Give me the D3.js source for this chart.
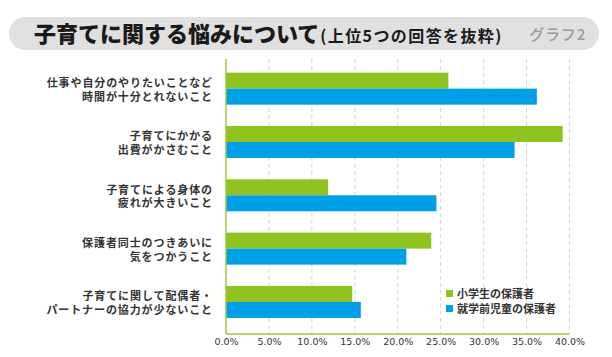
<!DOCTYPE html>
<html><head><meta charset="utf-8">
<script src="https://cdn.jsdelivr.net/npm/d3@7"></script>
<style>
html,body{margin:0;padding:0;background:#fff;}
svg{display:block;font-family:"Noto Sans CJK JP","Noto Sans",sans-serif;}
</style></head>
<body><svg id="c" width="612" height="357"></svg>
<script>
const categories = [
  ["仕事や自分のやりたいことなど","時間が十分とれないこと"],
  ["子育てにかかる","出費がかさむこと"],
  ["子育てによる身体の","疲れが大きいこと"],
  ["保護者同士のつきあいに","気をつかうこと"],
  ["子育てに関して配偶者・","パートナーの協力が少ないこと"]
];
const seriesNames = ["小学生の保護者","就学前児童の保護者"];
const elementary = [25.9, 39.2, 11.9, 23.9, 14.7];
const preschool = [36.2, 33.6, 24.5, 21.0, 15.7];
const ticks = [0,5,10,15,20,25,30,35,40];
const colors = ["#8fc31f","#00a0e9"];

const svg = d3.select("#c");
const L = 226, R = 569.5, T = 59, B = 334;
const x = d3.scaleLinear().domain([0,40]).range([L,R]);
const y = d3.scaleBand().domain(d3.range(categories.length)).range([62, 328.6]).padding(0);
const barH = 16;

// title bar
svg.append("rect").attr("x",9).attr("y",17).attr("width",590).attr("height",33)
  .attr("rx",16.5).attr("fill","#e0e0e0");
const title = svg.append("text").attr("x",34).attr("y",42).attr("fill","#1a1a1a").attr("font-weight",900);
title.append("tspan").attr("font-size",22).text("子育てに関する悩みについて");
title.append("tspan").attr("font-size",16).attr("font-weight",700).attr("letter-spacing",1.4).attr("dx",1).text("(上位5つの回答を抜粋)");
svg.append("text").attr("x",586).attr("y",40).attr("text-anchor","end").attr("font-size",15)
  .attr("letter-spacing",0.8).attr("fill","#9a9a9a").attr("font-weight",500).text("グラフ2");

// gridlines
svg.append("g").selectAll("line").data(ticks.filter(t=>t>0)).join("line")
  .attr("x1",d=>x(d)).attr("x2",d=>x(d)).attr("y1",T).attr("y2",B)
  .attr("stroke","#d4d4d4").attr("stroke-width",1).attr("stroke-dasharray","4,3");

// bars
const g = svg.append("g");
categories.forEach((c,i)=>{
  const cy = y(i) + y.bandwidth()/2;
  g.append("rect").attr("x",x(0)).attr("y",cy-barH).attr("width",x(elementary[i])-x(0)).attr("height",barH).attr("fill",colors[0]);
  g.append("rect").attr("x",x(0)).attr("y",cy).attr("width",x(preschool[i])-x(0)).attr("height",barH).attr("fill",colors[1]);
  c.forEach((line,j)=>{
    svg.append("text").attr("x",213).attr("y",cy-1.5+j*13.5).attr("text-anchor","end").attr("font-size",11)
      .attr("letter-spacing",0.9).attr("font-weight",700).attr("fill","#333").text(line);
  });
});

// axis lines
svg.append("line").attr("x1",L).attr("x2",L).attr("y1",T).attr("y2",B).attr("stroke","#9bc93a").attr("stroke-width",1.5);
svg.append("line").attr("x1",L).attr("x2",R).attr("y1",B).attr("y2",B).attr("stroke","#9bc93a").attr("stroke-width",1.5);

// tick labels
const xAxis = d3.axisBottom(x).tickValues(ticks).tickFormat(d=>d.toFixed(1)+"%").tickSize(0).tickPadding(0);
const ax = svg.append("g").attr("transform",`translate(0,${B+3})`).call(xAxis);
ax.select(".domain").remove();
ax.selectAll("text").attr("font-family","'DejaVu Sans', sans-serif").attr("font-size",9.5)
  .attr("fill","#333").attr("font-weight",400).attr("dy","0.85em");

// legend
const lg = svg.append("g");
seriesNames.forEach((n,i)=>{
  const ly = 293.5 + i*15;
  lg.append("rect").attr("x",446).attr("y",ly-3.5).attr("width",7).attr("height",7).attr("fill",colors[i]);
  lg.append("text").attr("x",457).attr("y",ly+4).attr("font-size",11).attr("font-weight",700).attr("fill","#333").text(n);
});
</script>
</body></html>
